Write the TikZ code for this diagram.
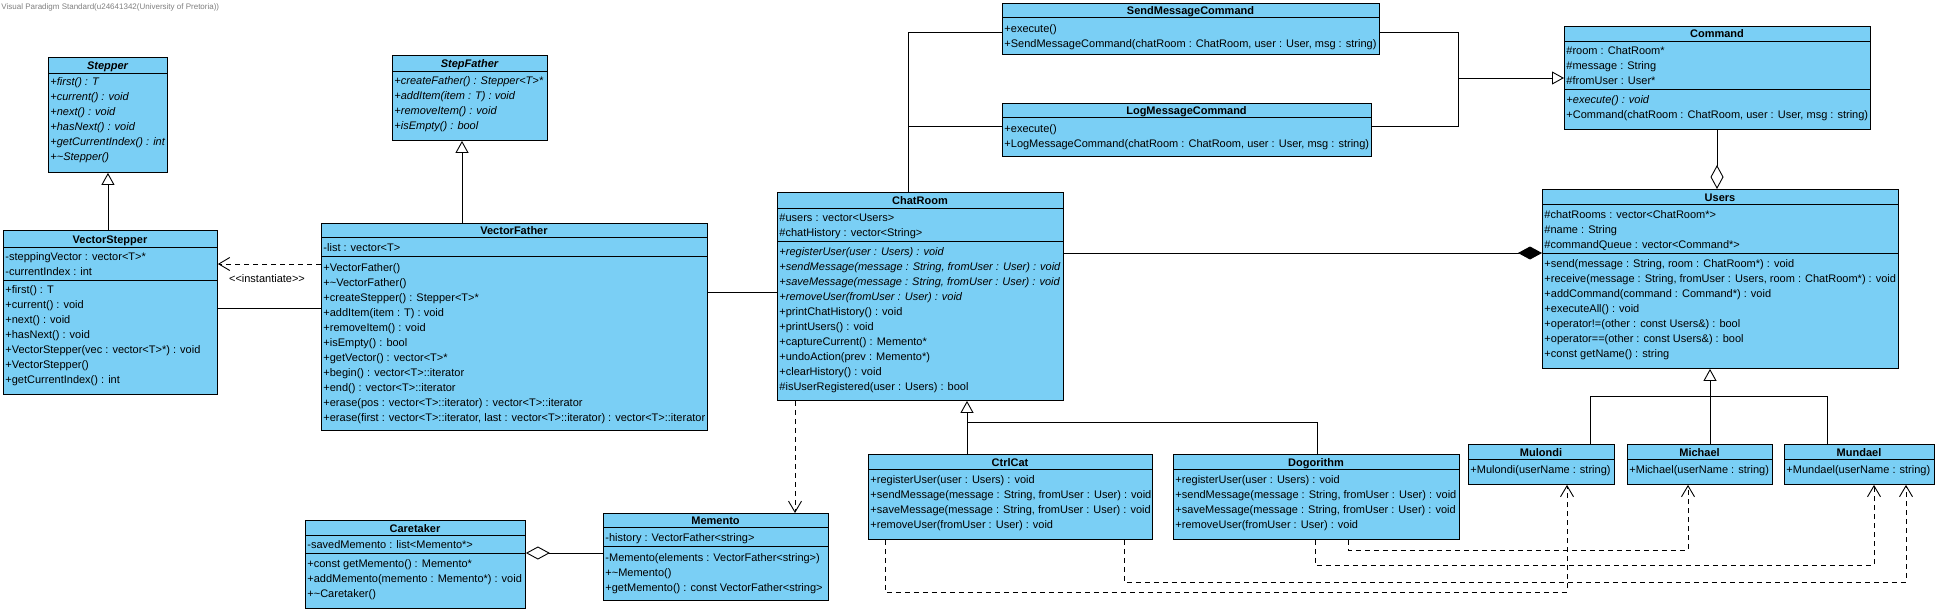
\documentclass[tikz,border=0pt]{standalone}
\usepackage{fontspec}
\setmainfont{Liberation Sans}
\usepackage{xcolor}
\usepackage{tikz}
\usetikzlibrary{arrows.meta}
\definecolor{vpblue}{RGB}{122,207,245}
\newcommand{\vpf}{\fontsize{11}{13}\selectfont}

\begin{document}
\begin{tikzpicture}[x=1pt, y=-1pt, line width=0.9pt,
    cls/.style={draw, fill=vpblue, anchor=north west, inner sep=0pt},
    ttl/.style={font=\vpf\bfseries, inner sep=0pt, text height=8pt, text depth=0pt},
    ttli/.style={ttl, font=\vpf\bfseries\itshape},
    mbr/.style={font=\vpf, anchor=west, inner sep=0pt, text height=8pt, text depth=0pt},
    mbri/.style={mbr, font=\vpf\itshape},
    gen/.style={-{Triangle[open, length=12pt, width=13pt]}},
    dep/.style={dash pattern=on 5pt off 4pt, -{Straight Barb[length=11pt, width=13pt]}},
    agg/.style={{Diamond[fill=white, length=24pt, width=13pt]}-},
    comp/.style={{Diamond[length=24pt, width=13pt]}-}]

    \path[use as bounding box, fill=white] (0,0) rectangle (1938,611);
    \node[anchor=west, inner sep=0pt, text=gray, font=\fontsize{8}{9}\selectfont] (vp) at (1,7) {Visual Paradigm Standard(u24641342(University of Pretoria))};

    % Stepper
    \node[cls, minimum width=119pt, minimum height=115pt] (stepper) at (48,57) {};
    \draw (48,73) -- (167,73);
    \node[ttli] (stepper-t) at (107.5,65) {Stepper};
    \node[mbri] (st1) at (50,81) {+first() : T};
    \node[mbri] (st2) at (50,96) {+current() : void};
    \node[mbri] (st3) at (50,111) {+next() : void};
    \node[mbri] (st4) at (50,126) {+hasNext() : void};
    \node[mbri] (st5) at (50,141) {+getCurrentIndex() : int};
    \node[mbri] (st6) at (50,156) {+\textasciitilde{}Stepper()};

    % VectorStepper
    \node[cls, minimum width=214pt, minimum height=164pt] (vstep) at (3,230) {};
    \draw (3,247) -- (217,247);
    \draw (3,280) -- (217,280);
    \node[ttl] (vstep-t) at (110,239) {VectorStepper};
    \node[mbr] (vs1) at (5,256) {-steppingVector : vector<T>*};
    \node[mbr] (vs2) at (5,271) {-currentIndex : int};
    \node[mbr] (vs3) at (5,289) {+first() : T};
    \node[mbr] (vs4) at (5,304) {+current() : void};
    \node[mbr] (vs5) at (5,319) {+next() : void};
    \node[mbr] (vs6) at (5,334) {+hasNext() : void};
    \node[mbr] (vs7) at (5,349) {+VectorStepper(vec : vector<T>*) : void};
    \node[mbr] (vs8) at (5,364) {+VectorStepper()};
    \node[mbr] (vs9) at (5,379) {+getCurrentIndex() : int};

    % StepFather
    \node[cls, minimum width=155pt, minimum height=85pt] (stepfather) at (392,55) {};
    \draw (392,71) -- (547,71);
    \node[ttli] (stepfather-t) at (469.5,63) {StepFather};
    \node[mbri] (sf1) at (394,80) {+createFather() : Stepper<T>*};
    \node[mbri] (sf2) at (394,95) {+addItem(item : T) : void};
    \node[mbri] (sf3) at (394,110) {+removeItem() : void};
    \node[mbri] (sf4) at (394,125) {+isEmpty() : bool};

    % VectorFather
    \node[cls, minimum width=386pt, minimum height=207pt] (vfather) at (321,223) {};
    \draw (321,237) -- (707,237);
    \draw (321,256) -- (707,256);
    \node[ttl] (vfather-t) at (514,230) {VectorFather};
    \node[mbr] (vf0) at (323,247) {-list : vector<T>};
    \node[mbr] (vf1) at (323,267) {+VectorFather()};
    \node[mbr] (vf2) at (323,282) {+\textasciitilde{}VectorFather()};
    \node[mbr] (vf3) at (323,297) {+createStepper() : Stepper<T>*};
    \node[mbr] (vf4) at (323,312) {+addItem(item : T) : void};
    \node[mbr] (vf5) at (323,327) {+removeItem() : void};
    \node[mbr] (vf6) at (323,342) {+isEmpty() : bool};
    \node[mbr] (vf7) at (323,357) {+getVector() : vector<T>*};
    \node[mbr] (vf8) at (323,372) {+begin() : vector<T>::iterator};
    \node[mbr] (vf9) at (323,387) {+end() : vector<T>::iterator};
    \node[mbr] (vf10) at (323,402) {+erase(pos : vector<T>::iterator) : vector<T>::iterator};
    \node[mbr] (vf11) at (323,417) {+erase(first : vector<T>::iterator, last : vector<T>::iterator) : vector<T>::iterator};

    % ChatRoom
    \node[cls, minimum width=286pt, minimum height=208pt] (chatroom) at (777,192) {};
    \draw (777,208) -- (1063,208);
    \draw (777,241) -- (1063,241);
    \node[ttl] (chatroom-t) at (920,200) {ChatRoom};
    \node[mbr] (cr1) at (779,217) {\#users : vector<Users>};
    \node[mbr] (cr2) at (779,232) {\#chatHistory : vector<String>};
    \node[mbri] (cr3) at (779,251) {+registerUser(user : Users) : void};
    \node[mbri] (cr4) at (779,266) {+sendMessage(message : String, fromUser : User) : void};
    \node[mbri] (cr5) at (779,281) {+saveMessage(message : String, fromUser : User) : void};
    \node[mbri] (cr6) at (779,296) {+removeUser(fromUser : User) : void};
    \node[mbr] (cr7) at (779,311) {+printChatHistory() : void};
    \node[mbr] (cr8) at (779,326) {+printUsers() : void};
    \node[mbr] (cr9) at (779,341) {+captureCurrent() : Memento*};
    \node[mbr] (cr10) at (779,356) {+undoAction(prev : Memento*)};
    \node[mbr] (cr11) at (779,371) {+clearHistory() : void};
    \node[mbr] (cr12) at (779,386) {\#isUserRegistered(user : Users) : bool};

    % Comandi
    \node[cls, minimum width=377pt, minimum height=51pt] (sendcmd) at (1002,3) {};
    \draw (1002,17) -- (1379,17);
    \node[ttl] (sendcmd-t) at (1190.5,10) {SendMessageCommand};
    \node[mbr] (sc1) at (1004,28) {+execute()};
    \node[mbr] (sc2) at (1004,43) {+SendMessageCommand(chatRoom : ChatRoom, user : User, msg : string)};

    \node[cls, minimum width=369pt, minimum height=53pt] (logcmd) at (1002,103) {};
    \draw (1002,117) -- (1371,117);
    \node[ttl] (logcmd-t) at (1186.5,110) {LogMessageCommand};
    \node[mbr] (lc1) at (1004,128) {+execute()};
    \node[mbr] (lc2) at (1004,143) {+LogMessageCommand(chatRoom : ChatRoom, user : User, msg : string)};

    \node[cls, minimum width=306pt, minimum height=103pt] (command) at (1564,26) {};
    \draw (1564,41) -- (1870,41);
    \draw (1564,89) -- (1870,89);
    \node[ttl] (command-t) at (1717,33) {Command};
    \node[mbr] (cm1) at (1566,50) {\#room : ChatRoom*};
    \node[mbr] (cm2) at (1566,65) {\#message : String};
    \node[mbr] (cm3) at (1566,80) {\#fromUser : User*};
    \node[mbri] (cm4) at (1566,99) {+execute() : void};
    \node[mbr] (cm5) at (1566,114) {+Command(chatRoom : ChatRoom, user : User, msg : string)};

    % Users
    \node[cls, minimum width=356pt, minimum height=179pt] (users) at (1542,189) {};
    \draw (1542,204) -- (1898,204);
    \draw (1542,253) -- (1898,253);
    \node[ttl] (users-t) at (1720,197) {Users};
    \node[mbr] (us1) at (1544,214) {\#chatRooms : vector<ChatRoom*>};
    \node[mbr] (us2) at (1544,229) {\#name : String};
    \node[mbr] (us3) at (1544,244) {\#commandQueue : vector<Command*>};
    \node[mbr] (us4) at (1544,263) {+send(message : String, room : ChatRoom*) : void};
    \node[mbr] (us5) at (1544,278) {+receive(message : String, fromUser : Users, room : ChatRoom*) : void};
    \node[mbr] (us6) at (1544,293) {+addCommand(command : Command*) : void};
    \node[mbr] (us7) at (1544,308) {+executeAll() : void};
    \node[mbr] (us8) at (1544,323) {+operator!=(other : const Users\&) : bool};
    \node[mbr] (us9) at (1544,338) {+operator==(other : const Users\&) : bool};
    \node[mbr] (us10) at (1544,353) {+const getName() : string};

    % CtrlCat e Dogorithm
    \node[cls, minimum width=284pt, minimum height=85pt] (ctrlcat) at (868,454) {};
    \draw (868,469) -- (1152,469);
    \node[ttl] (ctrlcat-t) at (1010,462) {CtrlCat};
    \node[mbr] (cc1) at (870,479) {+registerUser(user : Users) : void};
    \node[mbr] (cc2) at (870,494) {+sendMessage(message : String, fromUser : User) : void};
    \node[mbr] (cc3) at (870,509) {+saveMessage(message : String, fromUser : User) : void};
    \node[mbr] (cc4) at (870,524) {+removeUser(fromUser : User) : void};

    \node[cls, minimum width=286pt, minimum height=85pt] (dogorithm) at (1173,454) {};
    \draw (1173,469) -- (1459,469);
    \node[ttl] (dogorithm-t) at (1316,462) {Dogorithm};
    \node[mbr] (dg1) at (1175,479) {+registerUser(user : Users) : void};
    \node[mbr] (dg2) at (1175,494) {+sendMessage(message : String, fromUser : User) : void};
    \node[mbr] (dg3) at (1175,509) {+saveMessage(message : String, fromUser : User) : void};
    \node[mbr] (dg4) at (1175,524) {+removeUser(fromUser : User) : void};

    % Utenti
    \node[cls, minimum width=146pt, minimum height=40pt] (mulondi) at (1468,444) {};
    \draw (1468,459) -- (1614,459);
    \node[ttl] (mulondi-t) at (1541,452) {Mulondi};
    \node[mbr] (mu1) at (1470,469) {+Mulondi(userName : string)};

    \node[cls, minimum width=145pt, minimum height=40pt] (michael) at (1627,444) {};
    \draw (1627,459) -- (1772,459);
    \node[ttl] (michael-t) at (1699.5,452) {Michael};
    \node[mbr] (mi1) at (1629,469) {+Michael(userName : string)};

    \node[cls, minimum width=150pt, minimum height=40pt] (mundael) at (1784,444) {};
    \draw (1784,459) -- (1934,459);
    \node[ttl] (mundael-t) at (1859,452) {Mundael};
    \node[mbr] (md1) at (1786,469) {+Mundael(userName : string)};

    % Caretaker e Memento
    \node[cls, minimum width=220pt, minimum height=88pt] (caretaker) at (305,520) {};
    \draw (305,535) -- (525,535);
    \draw (305,553) -- (525,553);
    \node[ttl] (caretaker-t) at (415,528) {Caretaker};
    \node[mbr] (ct1) at (307,544) {-savedMemento : list<Memento*>};
    \node[mbr] (ct2) at (307,563) {+const getMemento() : Memento*};
    \node[mbr] (ct3) at (307,578) {+addMemento(memento : Memento*) : void};
    \node[mbr] (ct4) at (307,593) {+\textasciitilde{}Caretaker()};

    \node[cls, minimum width=225pt, minimum height=87pt] (memento) at (603,513) {};
    \draw (603,527) -- (828,527);
    \draw (603,546) -- (828,546);
    \node[ttl] (memento-t) at (715.5,520) {Memento};
    \node[mbr] (me1) at (605,537) {-history : VectorFather<string>};
    \node[mbr] (me2) at (605,557) {-Memento(elements : VectorFather<string>)};
    \node[mbr] (me3) at (605,572) {+\textasciitilde{}Memento()};
    \node[mbr] (me4) at (605,587) {+getMemento() : const VectorFather<string>};

    % Punti di snodo
    \coordinate (k1) at (462,0);
    \coordinate (k2) at (0,264);
    \coordinate (k3) at (0,308);
    \coordinate (k4) at (0,292);
    \coordinate (k5) at (0,253);
    \coordinate (k6) at (795,0);
    \coordinate (k7) at (0,553);
    \coordinate (j1) at (908,32);
    \coordinate (j2) at (908,126);
    \coordinate (j3) at (1458,32);
    \coordinate (j4) at (1458,126);
    \coordinate (j5) at (1458,78);
    \coordinate (j6) at (1717,0);
    \coordinate (j7) at (967,422);
    \coordinate (j8) at (1317,422);
    \coordinate (j9) at (1590,396);
    \coordinate (j10) at (1710,396);
    \coordinate (j11) at (1827,396);
    \coordinate (d1) at (885,592);
    \coordinate (d2) at (1567,592);
    \coordinate (d3) at (1124,582);
    \coordinate (d4) at (1906,582);
    \coordinate (d5) at (1315,565);
    \coordinate (d6) at (1874,565);
    \coordinate (d7) at (1348,550);
    \coordinate (d8) at (1688,550);

    % Relazioni
    \draw[gen] (vstep.north -| stepper.south) -- (stepper.south);
    \draw[gen] (vfather.north -| k1) -- (stepfather.south -| k1);
    \draw[dep] (vfather.west |- k2) -- (vstep.east |- k2);
    \node[mbr, anchor=center] (inst) at (267,278) {<{}<instantiate>{}>};
    \draw (vstep.east |- k3) -- (vfather.west |- k3);
    \draw (vfather.east |- k4) -- (chatroom.west |- k4);
    \draw (chatroom.north -| j1) -- (j1) -- (sendcmd.west |- j1);
    \draw (j2) -- (logcmd.west |- j2);
    \draw (sendcmd.east |- j3) -- (j3) -- (j4) -- (logcmd.east |- j4);
    \draw[gen] (j5) -- (command.west |- j5);
    \draw[agg] (users.north -| j6) -- (command.south -| j6);
    \draw[comp] (users.west |- k5) -- (chatroom.east |- k5);
    \draw[dep] (chatroom.south -| k6) -- (memento.north -| k6);
    \draw[gen] (ctrlcat.north -| j7) -- (chatroom.south -| j7);
    \draw (j7) -- (j8) -- (dogorithm.north -| j8);
    \draw[gen] (michael.north -| j10) -- (users.south -| j10);
    \draw (mulondi.north -| j9) -- (j9) -- (j11) -- (mundael.north -| j11);
    \draw[dep] (ctrlcat.south -| d1) -- (d1) -- (d2) -- (mulondi.south -| d2);
    \draw[dep] (ctrlcat.south -| d3) -- (d3) -- (d4) -- (mundael.south -| d4);
    \draw[dep] (dogorithm.south -| d5) -- (d5) -- (d6) -- (mundael.south -| d6);
    \draw[dep] (dogorithm.south -| d7) -- (d7) -- (d8) -- (michael.south -| d8);
    \draw[agg] (caretaker.east |- k7) -- (memento.west |- k7);
\end{tikzpicture}
\end{document}
